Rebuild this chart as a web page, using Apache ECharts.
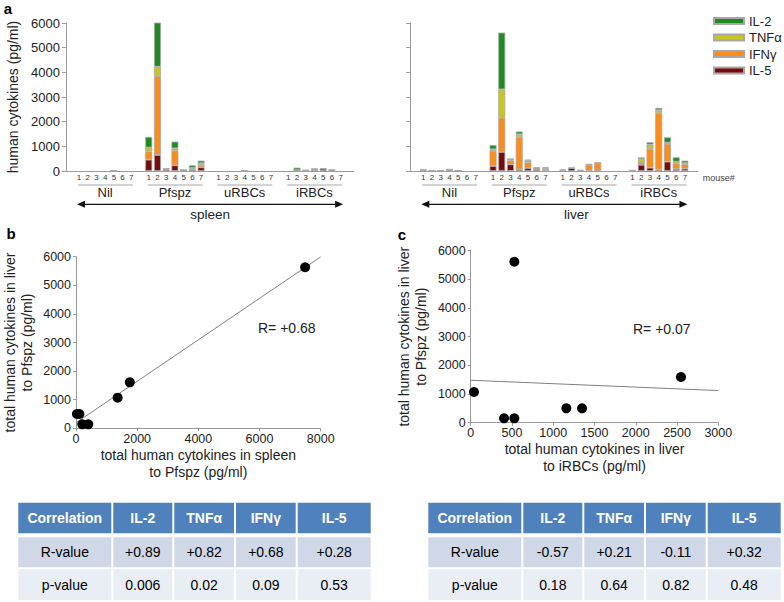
<!DOCTYPE html>
<html><head><meta charset="utf-8">
<script src="https://cdn.jsdelivr.net/npm/echarts@6/dist/echarts.min.js"></script>
<style>html,body{margin:0;padding:0;background:#fff}#c{width:784px;height:602px}</style>
</head><body><div id="c"></div>
<script>
// ---------- DATA ----------
const groups = ['Nil', 'Pfspz', 'uRBCs', 'iRBCs'];
const mice = ['1', '2', '3', '4', '5', '6', '7'];
const organs = ['spleen', 'liver'];
const stackOrder = ['IL-5', 'IFNγ', 'TNFα', 'IL-2'];      // bottom -> top
const legendOrder = ['IL-2', 'TNFα', 'IFNγ', 'IL-5'];

// spleen (Nil 1-7, Pfspz 1-7, uRBCs 1-7, iRBCs 1-7)
const spleenIL5 = [0,0,0,0,10,0,0,   460,650,70,230,20,55,150,   0,0,0,10,0,0,0,   0,30,20,40,90,10,0];
const spleenIFN = [0,0,0,0,10,0,0,   330,3200,0,590,10,45,95,   0,0,0,10,0,0,0,   0,0,0,0,0,0,0];
const spleenTNF = [0,0,0,0,0,0,0,    160,380,0,100,5,30,70,     0,0,0,0,0,0,0,    0,5,0,0,0,0,0];
const spleenIL2 = [0,0,0,0,0,0,0,    430,3270,40,270,5,100,105, 0,0,0,0,0,0,0,    0,100,20,68,18,58,0];

// liver
const liverIL5 = [40,15,15,10,15,0,0,  200,770,270,70,120,80,20,   0,120,20,0,0,0,0,   10,250,135,55,380,80,95];
const liverIFN = [0,0,0,50,0,0,0,      610,1390,160,1300,230,20,30, 30,0,0,240,330,0,0, 0,120,760,2290,720,220,175];
const liverTNF = [0,0,0,10,0,0,0,      70,1150,50,120,70,10,60,     30,0,20,20,10,0,0,  30,110,175,120,50,80,55];
const liverIL2 = [20,10,10,0,10,0,0,   170,2300,10,110,40,40,40,    0,15,0,20,0,0,0,    0,70,95,95,215,175,95];

// panel b: per Pfspz mouse 1-7
const bSpleenTotal = [1362, 7490, 110, 1760, 30, 205, 400];
const bLiverTotal  = [1072, 5630, 500, 1608, 500, 140, 140];
// panel c
const cIrbcTotal   = [40, 529, 1159, 2548, 1349, 529, 404];
const cPfspzTotal  = [1070, 5616, 500, 1593, 500, 151, 151];
const rB = 'R= +0.68';
const rC = 'R= +0.07';

// tables
const tableHeader = ['Correlation', 'IL-2', 'TNFα', 'IFNγ', 'IL-5'];
const rowLabels = ['R-value', 'p-value'];
const tableB_R = ['+0.89', '+0.82', '+0.68', '+0.28'];
const tableB_P = ['0.006', '0.02', '0.09', '0.53'];
const tableC_R = ['-0.57', '+0.21', '-0.11', '+0.32'];
const tableC_P = ['0.18', '0.64', '0.82', '0.48'];

// ---------- BUILD ----------
const FONT = '"Liberation Sans", Arial, sans-serif';
const colors = {'IL-2': '#1e8b1e', 'TNFα': '#c6c61c', 'IFNγ': '#ff8c16', 'IL-5': '#7a0b0b'};
const organData = {
  spleen: {'IL-5': spleenIL5, 'IFNγ': spleenIFN, 'TNFα': spleenTNF, 'IL-2': spleenIL2},
  liver:  {'IL-5': liverIL5,  'IFNγ': liverIFN,  'TNFα': liverTNF,  'IL-2': liverIL2}
};
function toSlots(flat) {
  const out = [null];
  groups.forEach((g, gi) => { for (let m = 0; m < 7; m++) out.push(flat[gi * 7 + m]); out.push(null); });
  return out;
}
const categories = toSlots(groups.flatMap(() => mice)).map(v => v === null ? '' : v);
const plain = v => String(v);

function linreg(xs, ys) {
  const n = xs.length, mx = xs.reduce((a, b) => a + b) / n, my = ys.reduce((a, b) => a + b) / n;
  let sxy = 0, sxx = 0;
  xs.forEach((x, i) => { sxy += (x - mx) * (ys[i] - my); sxx += (x - mx) * (x - mx); });
  const b = sxy / sxx; return [my - b * mx, b];
}

const chart = echarts.init(document.getElementById('c'), null, {renderer: 'svg'});
const axisGray = '#9a9a9a';
const barGrids = [
  {left: 65.9, top: 23, width: 287.8, height: 148},
  {left: 410.2, top: 23, width: 287.8, height: 148}
];
const xAxes = [], yAxes = [], series = [];
organs.forEach((org, oi) => {
  xAxes.push({type: 'category', gridIndex: oi, data: categories, boundaryGap: true,
    axisLine: {lineStyle: {color: axisGray}}, axisTick: {show: false},
    axisLabel: {interval: 0, fontSize: 8, color: '#333', margin: 2}});
  yAxes.push({type: 'value', gridIndex: oi, min: 0, max: 6000, interval: 1000,
    name: oi === 0 ? 'human cytokines (pg/ml)' : '', nameLocation: 'middle', nameGap: 46,
    nameTextStyle: {fontSize: 14, color: '#222'},
    axisLine: {show: true, lineStyle: {color: axisGray}},
    axisTick: {show: true, length: 4, lineStyle: {color: axisGray}},
    splitLine: {show: false},
    axisLabel: {show: oi === 0, fontSize: 13, color: '#222', margin: 6, formatter: plain}});
  stackOrder.forEach(ck => {
    series.push({type: 'bar', name: ck, xAxisIndex: oi, yAxisIndex: oi, stack: org,
      barCategoryGap: '20%', data: toSlots(organData[org][ck]).map(v => v ? v : null),
      itemStyle: {color: colors[ck], borderColor: '#a8a8a8', borderWidth: 0.8}});
  });
});

// scatter grids
const scat = [
  {grid: {left: 74, top: 256.7, width: 246.7, height: 171.6}, xs: bSpleenTotal, ys: bLiverTotal, xmax: 8000, xint: 2000,
   xname: 'total human cytokines in spleen\nto Pfspz (pg/ml)', yname: 'total human cytokines in liver\nto Pfspz (pg/ml)'},
  {grid: {left: 470.7, top: 250.7, width: 247.6, height: 172}, xs: cIrbcTotal, ys: cPfspzTotal, xmax: 3000, xint: 500,
   xname: 'total human cytokines in liver\nto iRBCs (pg/ml)', yname: 'total human cytokines in liver\nto Pfspz (pg/ml)'}
];
scat.forEach((s, si) => {
  const gi = si + 2;
  xAxes.push({type: 'value', gridIndex: gi, min: 0, max: s.xmax, interval: s.xint,
    name: s.xname, nameLocation: 'middle', nameGap: 16,
    nameTextStyle: {fontSize: 14, lineHeight: 17, color: '#222'},
    axisLine: {lineStyle: {color: axisGray}}, axisTick: {show: true, length: 3, lineStyle: {color: axisGray}},
    splitLine: {show: false}, axisLabel: {fontSize: 12.5, color: '#222', margin: 4, formatter: plain}});
  yAxes.push({type: 'value', gridIndex: gi, min: 0, max: 6000, interval: 1000,
    name: s.yname, nameLocation: 'middle', nameGap: 41,
    nameTextStyle: {fontSize: 14, lineHeight: 17, color: '#222'},
    axisLine: {show: true, lineStyle: {color: axisGray}}, axisTick: {show: true, length: 3, lineStyle: {color: axisGray}},
    splitLine: {show: false}, axisLabel: {fontSize: 12.5, color: '#222', margin: 5, formatter: plain}});
  const [a, b] = linreg(s.xs, s.ys);
  series.push({type: 'line', xAxisIndex: gi, yAxisIndex: gi, symbol: 'none', silent: true,
    data: [[0, a], [s.xmax, a + b * s.xmax]], lineStyle: {color: '#808080', width: 1}, z: 1});
  series.push({type: 'scatter', xAxisIndex: gi, yAxisIndex: gi, symbolSize: 10,
    data: s.xs.map((x, i) => [x, s.ys[i]]), itemStyle: {color: '#000', opacity: 1}, z: 3});
});

chart.setOption({
  animation: false,
  textStyle: {fontFamily: FONT},
  grid: [...barGrids, ...scat.map(s => s.grid)],
  xAxis: xAxes, yAxis: yAxes, series,
  legend: {data: legendOrder, orient: 'vertical', left: 713, top: 14, padding: 0, itemWidth: 30, itemHeight: 6,
    itemGap: 2.5, icon: 'rect', selectedMode: false,
    textStyle: {fontSize: 13, lineHeight: 14, color: '#222', fontFamily: FONT}}
});

// ---------- annotations (positions derived from axes) ----------
const g = [];
const txt = (x, y, text, opt = {}) => g.push({type: 'text', x, y, silent: true,
  style: Object.assign({text, fontFamily: FONT, fontSize: 13, fill: '#222', align: 'center', verticalAlign: 'middle'}, opt)});
organs.forEach((org, oi) => {
  const cx = i => chart.convertToPixel({xAxisIndex: oi}, i);
  groups.forEach((gname, gi) => {
    const first = cx(1 + gi * 8), last = cx(7 + gi * 8);
    g.push({type: 'line', silent: true, shape: {x1: first - 1, y1: 185, x2: last + 1.5, y2: 185},
      style: {stroke: '#c4c4c4', lineWidth: 1.5}});
    txt((first + last) / 2, 192.5, gname, {fontSize: 13});
  });
  const a0 = cx(1) - 2, a1 = cx(31) + 2.5, ay = 204.3;
  g.push({type: 'line', silent: true, shape: {x1: a0 + 6, y1: ay, x2: a1 - 6, y2: ay}, style: {stroke: '#111', lineWidth: 1.2}});
  g.push({type: 'polygon', silent: true, shape: {points: [[a0, ay], [a0 + 8, ay - 3.5], [a0 + 8, ay + 3.5]]}, style: {fill: '#111'}});
  g.push({type: 'polygon', silent: true, shape: {points: [[a1, ay], [a1 - 8, ay - 3.5], [a1 - 8, ay + 3.5]]}, style: {fill: '#111'}});
  txt((a0 + a1) / 2 + (oi === 1 ? 22 : 0), 214, org, {fontSize: 13.5});
});
txt(702.7, 178, 'mouse#', {fontSize: 9, align: 'left', fill: '#444'});
txt(8, 8, 'a', {fontSize: 15, fontWeight: 'bold', fill: '#000'});
txt(11, 233, 'b', {fontSize: 15, fontWeight: 'bold', fill: '#000'});
txt(402, 234.5, 'c', {fontSize: 15, fontWeight: 'bold', fill: '#000'});
txt(258, 328, rB, {fontSize: 14, align: 'left'});
txt(633, 329, rC, {fontSize: 14, align: 'left'});

// tables
function table(left, rVals, pVals) {
  const colW = [95, 61, 61.7, 61.7, 75];
  const rows = [{y0: 502.7, y1: 533.3, fill: '#4f81bd'}, {y0: 537.3, y1: 567.3, fill: '#d0d8e8'}, {y0: 569.3, y1: 600, fill: '#e9edf4'}];
  const content = [tableHeader, [rowLabels[0], ...rVals], [rowLabels[1], ...pVals]];
  rows.forEach((r, ri) => {
    let x = left;
    colW.forEach((w, ci) => {
      g.push({type: 'rect', silent: true, shape: {x: x + 1, y: r.y0, width: w - 2, height: r.y1 - r.y0}, style: {fill: r.fill}});
      txt(x + w / 2, (r.y0 + r.y1) / 2, content[ri][ci], ri === 0
        ? {fontSize: 14, fontWeight: 'bold', fill: '#fff'} : {fontSize: 14, fill: '#000'});
      x += w;
    });
  });
}
table(17.3, tableB_R, tableB_P);
table(427.3, tableC_R, tableC_P);

chart.setOption({graphic: g});
</script></body></html>
